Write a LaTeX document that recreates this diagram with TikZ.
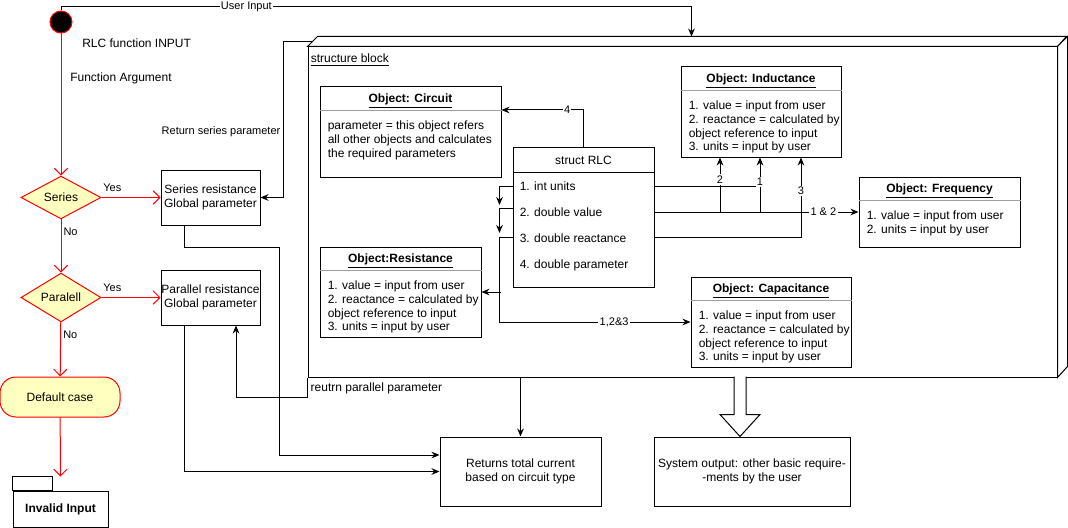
\documentclass[tikz,border=0pt]{standalone}
\usepackage{fontspec}
\setmainfont{Liberation Sans}
\usetikzlibrary{arrows.meta,calc,shapes.geometric}
\definecolor{redline}{HTML}{FF0000}
\definecolor{noteyellow}{HTML}{FFFFC0}
\definecolor{sepgray}{HTML}{A0A0A0}
\newcommand{\objbox}[7]{%
  \node[box, sz={#4}{#5}] (#1) at (#2,#3) {};
  \draw[sepline] ($(#1.north west)+(0,24)$) -- ($(#1.north east)+(0,24)$);
  \node[mdb, anchor=base] (#1-title) at ($(#1.north)+(0,16.3)$) {\underline{#6}};
  \node[md, anchor=north west, align=left] (#1-body) at ($(#1.north west)+(8,34.3)$) {#7};
}
\begin{document}
\begin{tikzpicture}[x=0.75pt,y=-0.75pt,
  sz/.style 2 args={minimum width={#1*0.75pt}, minimum height={#2*0.75pt}},
  sm/.style={font=\fontsize{8.25pt}{10pt}\selectfont, inner sep=0pt},
  md/.style={font=\fontsize{9pt}{10.3pt}\selectfont, inner sep=0pt},
  mdb/.style={font=\fontsize{9pt}{10.3pt}\selectfont\bfseries, inner sep=0pt},
  box/.style={draw, line width=0.75pt, fill=white, inner sep=0pt},
  flow/.style={draw=redline, line width=0.75pt, -{Straight Barb[length=5pt,width=10pt]}},
  arr/.style={draw, line width=0.75pt, -{Stealth[length=6pt,width=5pt]}},
  ln/.style={draw, line width=0.75pt},
  lbl/.style={font=\fontsize{8.25pt}{10pt}\selectfont, fill=white, inner sep=1pt},
  sepline/.style={draw=sepgray, line width=0.75pt},
  yel/.style={draw=redline, fill=noteyellow, line width=0.75pt, inner sep=0pt},
]
\useasboundingbox (0,0) rectangle (1068,528);

% ---------- structure block (3D node) ----------
\node[box, sz={749}{330}] (sb) at (682.5,212) {};
\draw[ln, fill=white] (sb.north west) -- ++(10,-10) -- ++(749,0) -- (sb.north east) -- cycle;
\draw[ln, fill=white] (sb.north east) -- ++(10,-10) -- ++(0,330) -- (sb.south east) -- cycle;
\node[md, anchor=base west] (sblabel) at ($(sb.north west)+(3,16.3)$) {\underline{structure block}};

% ---------- objects inside ----------
\objbox{circuit}{410.5}{132}{181}{90}{Object: Circuit}{parameter = this object refers\\all other objects and calculates\\the required parameters}
\objbox{ind}{761}{112}{160}{90}{Object: Inductance}{1. value = input from user\\2. reactance = calculated by\\object reference to input\\3. units = input by user}
\objbox{freq}{939.5}{212}{161}{70}{Object: Frequency}{1. value = input from user\\2. units = input by user}
\objbox{res}{400.5}{292}{161}{90}{Object:Resistance}{1. value = input from user\\2. reactance = calculated by\\object reference to input\\3. units = input by user}
\objbox{cap}{771}{322}{160}{90}{Object: Capacitance}{1. value = input from user\\2. reactance = calculated by\\object reference to input\\3. units = input by user}

% struct RLC
\node[box, sz={141}{140}] (struct) at (583.5,217) {};
\draw[ln] ($(struct.north west)+(0,26)$) -- ($(struct.north east)+(0,26)$);
\node[md, anchor=base] (struct-title) at ($(struct.north)+(0,17.5)$) {struct RLC};
\node[md, anchor=base west] (r1) at ($(struct.north west)+(7,44.3)$) {1. int units};
\node[md, anchor=base west] (r2) at ($(struct.north west)+(7,70.3)$) {2. double value};
\node[md, anchor=base west] (r3) at ($(struct.north west)+(7,96.3)$) {3. double reactance};
\node[md, anchor=base west] (r4) at ($(struct.north west)+(7,122.3)$) {4. double parameter};

% struct edges
\draw[arr] (struct.north) |- node[lbl, pos=0.6]{4} ($(circuit.east)+(0,-22)$);
\draw[arr] ($(struct.west)+(0,-31)$) -| ($(struct.west)+(-13,-12)$);
\draw[arr] ($(struct.west)+(0,-9)$) -| ($(struct.west)+(-13,16)$);
\draw[arr] ($(struct.west)+(0,20)$) -| ($(cap.west)+(-191,0)$) -- node[lbl, pos=0.6]{1,2\&3} (cap.west);
\draw[arr] ($(res.east)+(19,0)$) -- (res.east);

\draw[ln] ($(struct.east)+(0,-31)$) -- ++(106,0);
\draw[arr] ($(struct.east)+(0,-5)$) -- node[lbl, pos=0.828]{1 \& 2} (freq.west);
\draw[arr] ($(ind.south)+(-41,55)$) -- node[lbl, pos=0.6]{2} ($(ind.south)+(-41,0)$);
\draw[arr] ($(ind.south)+(-1,55)$) -- node[lbl, pos=0.56]{1} ($(ind.south)+(-1,0)$);
\draw[arr] ($(struct.east)+(0,20)$) -| node[lbl, pos=0.79]{3} ($(ind.south)+(40,0)$);

% ---------- left activity flow ----------
\node[circle, fill=black, draw=redline, line width=0.75pt, minimum size={22*0.75pt}, inner sep=0pt] (start) at (61,22) {};
\node[md, anchor=base west] (rlcin) at (82,47.3) {RLC function INPUT};
\node[md, anchor=base west] (funarg) at (70,81.3) {Function Argument};

\node[diamond, yel, sz={80}{39}, md] (series) at (61,197.5) {Series};
\node[diamond, yel, sz={80}{39}, md] (parallel) at (61,297.5) {Paralell};
\node[yel, rounded corners=12pt, sz={120}{40}, md] (default) at (60,397) {Default case};
\node[box, sz={95}{36}, mdb] (invalid) at (60.5,509) {Invalid Input};
\draw[ln] (invalid.north west) rectangle ($(invalid.north west)+(40,-14)$);
\coordinate (invtop) at ($(invalid.north)+(0,-14)$);

\node[box, sz={99}{55}, md, align=center] (seriesbox) at (210.5,197.5) {Series resistance\\Global parameter};
\node[box, sz={99}{55}, md, align=center] (parbox) at (210.5,297.5) {Parallel resistance\\Global parameter};

\draw[flow] (start) -- (series);
\draw[flow] (series) -- node[sm, pos=0, anchor=south west, xshift=1pt, yshift=4pt]{Yes} (seriesbox);
\draw[flow] (series) -- node[sm, pos=0, anchor=north west, xshift=1.5pt, yshift=-6pt]{No} (parallel);
\draw[flow] (parallel) -- node[sm, pos=0, anchor=south west, xshift=1pt, yshift=4pt]{Yes} (parbox);
\draw[flow] (parallel) -- node[sm, pos=0, anchor=north west, xshift=1.5pt, yshift=-6pt]{No} (default);
\draw[flow] (default) -- (invtop);

% ---------- bottom boxes ----------
\node[box, sz={161}{69}, md, align=center] (returns) at (520.5,471.5) {Returns total current\\based on circuit type};
\node[box, sz={196}{69}, md, align=center] (sysout) at (752,471.5) {System output: other basic require-\\-ments by the user};

% ---------- black connectors ----------
\coordinate (sbin) at ($(sb.north west)+(384,-10)$);
\draw[arr] (start.north) |- node[lbl, pos=0.647]{User Input} ($(sbin)+(0,-30)$) -- (sbin);

\coordinate (sbdiag) at ($(sb.north west)+(5,-5)$);
\draw[arr] (sbdiag) -- ++(-29,0) |- node[sm, pos=0.29, anchor=east, xshift=-2pt]{Return series parameter} (seriesbox.east);

\draw[arr] ($(seriesbox.south west)+(24,0)$) -- ++(0,22) -- ++(95,0) |- ($(returns.west)+(0,-16.5)$);
\draw[arr] ($(parbox.south west)+(24,0)$) |- (returns.west);

\draw[arr] (sb.south west) -- node[md, pos=0.55, anchor=west, xshift=2pt]{reutrn parallel parameter} ++(0,20) -| ($(parbox.south)+(25.5,0)$);

\draw[arr] (returns.north |- sb.south) -- (returns.north);

\coordinate (hatip) at ($(sysout.north)+(-12,0)$);
\draw[ln, fill=white] ($(hatip)+(-6,-60)$) -- ($(hatip)+(-6,-22)$) -- ($(hatip)+(-20,-22)$) -- (hatip) -- ($(hatip)+(20,-22)$) -- ($(hatip)+(6,-22)$) -- ($(hatip)+(6,-60)$);
\end{tikzpicture}
\end{document}
